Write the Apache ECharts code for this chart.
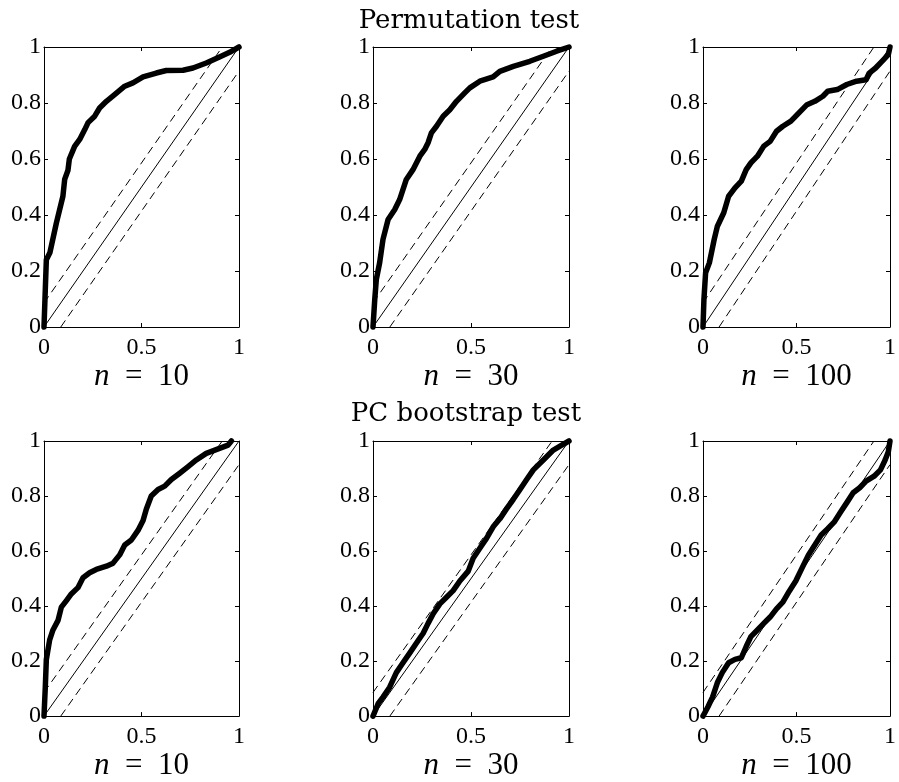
<!DOCTYPE html>
<html>
<head>
<meta charset="utf-8">
<script src="https://cdn.jsdelivr.net/npm/echarts@6/dist/echarts.min.js"></script>
<style>
html,body{margin:0;padding:0;background:#fff;}
#chart{width:899px;height:782px;}
</style>
</head>
<body>
<div id="chart"></div>
<script>
// ---- data ----
const rowTitles = ['Permutation test', 'PC bootstrap test'];
const sampleSizes = [10, 30, 100];
const xTicks = [0, 0.5, 1];
const yTicks = [0, 0.2, 0.4, 0.6, 0.8, 1];
const bandHalfWidth = 0.086;

const permN10 = [[0,0],[0.005,0.1],[0.012,0.24],[0.03,0.265],[0.063,0.37],[0.097,0.467],[0.106,0.527],[0.123,0.56],[0.13,0.6],[0.157,0.645],[0.183,0.67],[0.209,0.705],[0.226,0.73],[0.26,0.753],[0.285,0.782],[0.32,0.806],[0.362,0.83],[0.414,0.86],[0.456,0.872],[0.508,0.893],[0.576,0.907],[0.627,0.916],[0.713,0.917],[0.764,0.925],[0.832,0.943],[0.9,0.964],[0.952,0.981],[1,1]];
const permN30 = [[0,0],[0.009,0.099],[0.017,0.17],[0.034,0.23],[0.051,0.313],[0.077,0.384],[0.111,0.42],[0.136,0.455],[0.17,0.527],[0.204,0.562],[0.239,0.61],[0.264,0.634],[0.281,0.658],[0.298,0.693],[0.324,0.717],[0.358,0.753],[0.392,0.776],[0.426,0.806],[0.468,0.836],[0.494,0.854],[0.545,0.878],[0.613,0.893],[0.647,0.913],[0.716,0.931],[0.8,0.949],[0.869,0.967],[0.937,0.985],[1,1]];
const permN100 = [[0,0],[0.005,0.099],[0.014,0.194],[0.034,0.229],[0.06,0.313],[0.077,0.36],[0.111,0.408],[0.137,0.467],[0.171,0.497],[0.205,0.521],[0.231,0.562],[0.256,0.586],[0.291,0.61],[0.325,0.646],[0.359,0.663],[0.393,0.699],[0.427,0.717],[0.47,0.735],[0.513,0.765],[0.556,0.794],[0.598,0.806],[0.641,0.824],[0.667,0.842],[0.718,0.848],[0.769,0.866],[0.821,0.878],[0.872,0.883],[0.889,0.907],[0.923,0.925],[0.957,0.949],[0.991,0.973],[1,1]];
const pcN10 = [[0,0],[0.007,0.111],[0.012,0.206],[0.029,0.277],[0.046,0.313],[0.072,0.348],[0.089,0.396],[0.115,0.42],[0.14,0.444],[0.174,0.467],[0.2,0.503],[0.234,0.521],[0.268,0.533],[0.32,0.545],[0.354,0.556],[0.388,0.586],[0.414,0.622],[0.448,0.64],[0.482,0.675],[0.508,0.711],[0.525,0.753],[0.55,0.8],[0.585,0.824],[0.619,0.836],[0.653,0.86],[0.696,0.883],[0.739,0.907],[0.781,0.931],[0.832,0.955],[0.9,0.973],[0.944,0.985],[0.961,1]];
const pcN30 = [[0,0],[0.026,0.045],[0.051,0.069],[0.085,0.105],[0.119,0.158],[0.153,0.194],[0.187,0.229],[0.221,0.265],[0.256,0.301],[0.281,0.337],[0.307,0.372],[0.341,0.408],[0.375,0.432],[0.409,0.456],[0.443,0.491],[0.486,0.527],[0.511,0.574],[0.545,0.61],[0.579,0.646],[0.613,0.688],[0.647,0.717],[0.681,0.753],[0.716,0.788],[0.75,0.824],[0.784,0.86],[0.818,0.895],[0.869,0.931],[0.92,0.967],[0.963,0.985],[1,1]];
const pcN100 = [[0,0],[0.026,0.033],[0.051,0.069],[0.077,0.122],[0.103,0.158],[0.137,0.194],[0.171,0.206],[0.205,0.212],[0.231,0.253],[0.256,0.289],[0.291,0.313],[0.325,0.337],[0.359,0.36],[0.393,0.39],[0.427,0.414],[0.462,0.455],[0.496,0.491],[0.53,0.539],[0.564,0.586],[0.598,0.622],[0.632,0.658],[0.667,0.681],[0.701,0.705],[0.735,0.741],[0.769,0.776],[0.803,0.812],[0.838,0.83],[0.872,0.854],[0.915,0.872],[0.949,0.895],[0.974,0.931],[0.991,0.961],[1,1]];

const curves = [permN10, permN30, permN100, pcN10, pcN30, pcN100];

// ---- layout ----
const gridLefts = [44, 373, 703];
const gridWidths = [195, 196, 195];
const gridTops = [47, 441];
const gridHeight = 280;
const titleCenters = [[469, 21], [466, 414]];

const tickFont = '"Liberation Serif", "Times New Roman", serif';
const grids = [], xAxes = [], yAxes = [], series = [];

function baseAxis(gi, pos, showLabel, isX) {
  const ticks = isX ? xTicks : yTicks;
  return {
    type: 'value', gridIndex: gi, position: pos,
    min: ticks[0], max: ticks[ticks.length - 1], interval: ticks[1] - ticks[0],
    axisLine: { show: true, onZero: false, lineStyle: { color: '#000', width: 1 } },
    axisTick: { show: true, inside: true, length: 4, lineStyle: { color: '#000', width: 1 } },
    splitLine: { show: false },
    axisLabel: {
      show: showLabel, color: '#000', fontFamily: tickFont, fontSize: 24,
      margin: isX ? 9 : 3,
      formatter: v => String(Math.round(v * 10) / 10)
    }
  };
}

for (let r = 0; r < 2; r++) {
  for (let c = 0; c < 3; c++) {
    const gi = r * 3 + c;
    grids.push({ left: gridLefts[c], top: gridTops[r], width: gridWidths[c], height: gridHeight, show: false });
    const xb = baseAxis(gi, 'bottom', true, true);
    xb.name = '{i|n}  {r|=}  {r|' + sampleSizes[c] + '}';
    xb.nameLocation = 'middle';
    xb.nameGap = 27;
    xb.nameTextStyle = { color: '#000', fontFamily: tickFont, fontSize: 31,
      rich: {
        i: { fontFamily: tickFont, fontStyle: 'italic', fontSize: 31, color: '#000' },
        r: { fontFamily: tickFont, fontSize: 31, color: '#000' }
      } };
    xAxes.push(xb);
    xAxes.push(baseAxis(gi, 'top', false, true));
    yAxes.push(baseAxis(gi, 'left', true, false));
    yAxes.push(baseAxis(gi, 'right', false, false));
    const xi = gi * 2, yi = gi * 2;
    const d = bandHalfWidth;
    series.push({ type: 'line', xAxisIndex: xi, yAxisIndex: yi, data: [[0, 0], [1, 1]], symbol: 'none', silent: true,
      lineStyle: { color: '#000', width: 1 } });
    series.push({ type: 'line', xAxisIndex: xi, yAxisIndex: yi, data: [[0, d], [1 - d, 1]], symbol: 'none', silent: true,
      lineStyle: { color: '#000', width: 1, type: [8, 5] } });
    series.push({ type: 'line', xAxisIndex: xi, yAxisIndex: yi, data: [[d, 0], [1, 1 - d]], symbol: 'none', silent: true,
      lineStyle: { color: '#000', width: 1, type: [8, 5] } });
    series.push({ type: 'line', xAxisIndex: xi, yAxisIndex: yi, data: curves[gi], symbol: 'none', clip: false, silent: true,
      lineStyle: { color: '#000', width: 5.5, cap: 'round', join: 'round' } });
  }
}

const chart = echarts.init(document.getElementById('chart'), null, { renderer: 'canvas' });
chart.setOption({
  animation: false,
  backgroundColor: '#fff',
  grid: grids, xAxis: xAxes, yAxis: yAxes, series: series,
  graphic: rowTitles.map((t, i) => ({
    type: 'text', x: titleCenters[i][0], y: titleCenters[i][1],
    style: { text: t, fill: '#000', font: '26px "DejaVu Serif"', align: 'center', verticalAlign: 'middle' }
  }))
});
</script>
</body>
</html>
